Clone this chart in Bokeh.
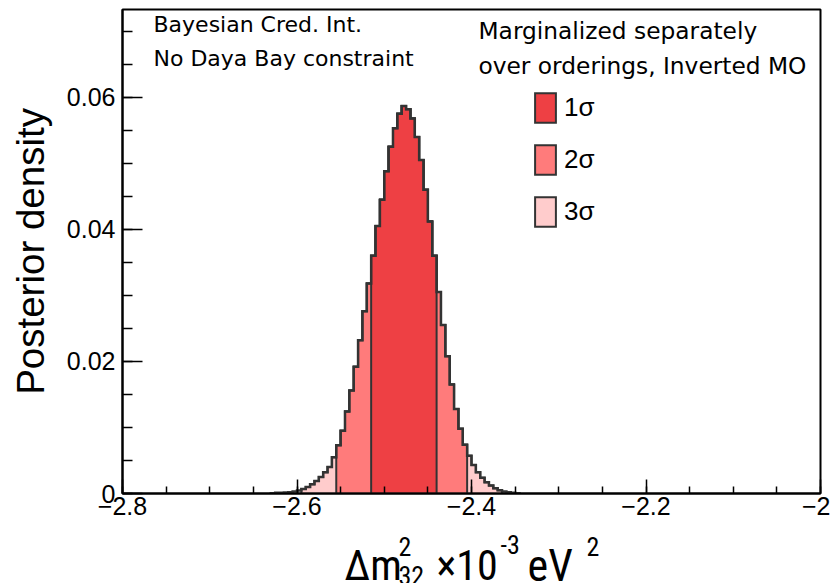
import numpy as np
from bokeh.plotting import figure
from bokeh.layouts import column
from bokeh.models import Range1d, FixedTicker, Label, Legend, LegendItem
from bokeh.embed import file_html
from bokeh.resources import INLINE

# ---------------- data ----------------
bin_start = -2.630          # left edge of first bin
bin_width = 0.005
density = [0.00002, 0.0001, 0.0001, 0.00015, 0.0002, 0.0003, 0.00045, 0.0007,
           0.0010, 0.0014, 0.0019, 0.0025, 0.0032, 0.0040, 0.0055, 0.0073,
           0.0095, 0.0124, 0.0156, 0.0192, 0.0232, 0.0276, 0.0318, 0.0360,
           0.0405, 0.0445, 0.0488, 0.0525, 0.0553, 0.0575, 0.0587, 0.0582,
           0.0568, 0.0540, 0.0505, 0.0460, 0.0412, 0.0360, 0.0305, 0.0255,
           0.0208, 0.0165, 0.0128, 0.0098, 0.0074, 0.0057, 0.0043, 0.0032,
           0.0024, 0.0017, 0.0012, 0.0008, 0.0005, 0.0003, 0.0002, 0.0001,
           0.00005]

sigma_labels = ["1σ", "2σ", "3σ"]
sigma_lo = [-2.515, -2.555, -2.595]
sigma_hi = [-2.440, -2.405, -2.365]
sigma_colors = ["#ee4044", "#ff7b7b", "#ffcccc"]

x_ticks = [-2.8, -2.6, -2.4, -2.2, -2.0]
x_tick_labels = ["−2.8", "−2.6", "−2.4", "−2.2", "−2"]
y_ticks = [0.0, 0.02, 0.04, 0.06]
y_tick_labels = ["0", "0.02", "0.04", "0.06"]

# ---------------- helpers ----------------
dens = np.array(density)
edges = bin_start + bin_width * np.arange(len(dens) + 1)


def step_outline(lo, hi):
    i0 = int(np.argmin(np.abs(edges - lo)))
    i1 = int(np.argmin(np.abs(edges - hi)))
    e = edges[i0:i1 + 1]
    v = dens[i0:i1]
    xs = np.repeat(e, 2)
    ys = np.concatenate([[0.0], np.repeat(v, 2), [0.0]])
    return xs, ys


AX_FONT = "Liberation Sans, Arial, sans-serif"
TXT_FONT = "DejaVu Sans, sans-serif"
NARROW = "Roboto Condensed, Liberation Sans Narrow, Liberation Sans, sans-serif"
LINE_C = "#333333"

p = figure(width=830, height=525, output_backend="svg", toolbar_location=None,
           x_range=Range1d(-2.8, -2.0), y_range=Range1d(0, 0.0733),
           min_border_left=122, min_border_right=10, min_border_top=9,
           min_border_bottom=32)
p.grid.visible = False
p.outline_line_color = "black"
p.outline_line_width = 2
p.background_fill_color = "white"
p.border_fill_color = "white"

# filled credible regions, widest first
renderers = {}
for lab_, lo, hi, col in reversed(list(zip(sigma_labels, sigma_lo, sigma_hi, sigma_colors))):
    xs, ys = step_outline(lo, hi)
    r = p.patch(xs, ys, fill_color=col, line_color=LINE_C, line_width=2,
                line_join="miter")
    renderers[lab_] = r

# full histogram outline
fx, fy = step_outline(edges[0], edges[-1])
p.line(fx, fy, line_color=LINE_C, line_width=2.5, line_join="miter")

# ---------------- axes ----------------
xa = p.xaxis[0]
xa.ticker = FixedTicker(ticks=x_ticks,
                        minor_ticks=[round(-2.8 + 0.05 * i, 3) for i in range(17)])
xa.major_label_overrides = dict(zip(x_ticks, x_tick_labels))
ya = p.yaxis[0]
ya.ticker = FixedTicker(ticks=y_ticks,
                        minor_ticks=[round(0.005 * i, 3) for i in range(15)])
ya.major_label_overrides = dict(zip(y_ticks, y_tick_labels))

for ax in (xa, ya):
    ax.axis_line_width = 2
    ax.axis_line_color = "black"
    ax.major_tick_out = 0
    ax.minor_tick_out = 0
    ax.major_tick_line_width = 1.5
    ax.minor_tick_line_width = 1.5
    ax.major_tick_line_color = "black"
    ax.minor_tick_line_color = "black"
    ax.major_label_text_font = AX_FONT
    ax.major_label_text_font_size = "25px"
    ax.major_label_text_color = "black"
xa.major_tick_in = 14
xa.minor_tick_in = 7
ya.major_tick_in = 20
ya.minor_tick_in = 10
xa.major_label_standoff = 3
ya.major_label_standoff = 7

ya.axis_label = "Posterior density"
ya.axis_label_text_font = AX_FONT
ya.axis_label_text_font_size = "38.5px"
ya.axis_label_text_font_style = "normal"
ya.axis_label_text_color = "black"
ya.axis_label_standoff = 12


# ---------------- texts ----------------
def lab(fig, x, y, text, size, font=TXT_FONT):
    fig.add_layout(Label(x=x, y=y, x_units="screen", y_units="screen", text=text,
                         text_font=font, text_font_size=size, text_color="black",
                         text_baseline="middle", text_align="left"))


lab(p, 31, 469, "Bayesian Cred. Int.", "22px")
lab(p, 31, 435, "No Daya Bay constraint", "22px")
lab(p, 356, 463, "Marginalized separately", "23.3px")
lab(p, 356, 428, "over orderings, Inverted MO", "23.3px")

# ---------------- legend ----------------
legend = Legend(items=[LegendItem(label=l, renderers=[renderers[l]]) for l in sigma_labels],
                location=(410, 263), orientation="vertical",
                glyph_width=26, glyph_height=37, spacing=15, padding=0, margin=0,
                label_standoff=6, label_text_font=AX_FONT, label_text_color="black",
                label_text_font_size="26px", label_height=37,
                border_line_alpha=0, background_fill_alpha=0)
p.add_layout(legend, "center")

# ---------------- x-axis title strip (frame aligned with main frame) ----------------
t = figure(width=830, height=58, output_backend="svg", toolbar_location=None,
           x_range=Range1d(0, 698), y_range=Range1d(0, 58),
           x_axis_type=None, y_axis_type=None,
           min_border_left=122, min_border_right=10, min_border_top=0,
           min_border_bottom=0)
t.grid.visible = False
t.outline_line_color = None
t.background_fill_color = "white"
t.border_fill_color = "white"

lab(t, 222, 18, "Δm", "42px", font=NARROW)
lab(t, 276, 37.5, "2", "26px", font=NARROW)
lab(t, 276, 8, "32", "26px", font=NARROW)
lab(t, 314, 18, "×10", "42px", font=NARROW)
lab(t, 378, 39.5, "-3", "26px", font=NARROW)
lab(t, 405, 18, "eV", "44px", font=NARROW)
lab(t, 464, 37.5, "2", "26px", font=NARROW)

layout = column(p, t, spacing=0)
open("out.html", "w").write(file_html(layout, INLINE))
